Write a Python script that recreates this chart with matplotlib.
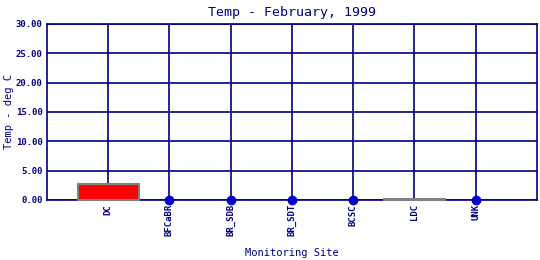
import numpy as np
import matplotlib
matplotlib.use("Agg")
import matplotlib.pyplot as plt

# data
sites = ["DC", "BFCaBR", "BR_SDB", "BR_SDT", "BCSC", "LDC", "UNK"]
temps = [2.7, np.nan, np.nan, np.nan, np.nan, 0.1, np.nan]
y_ticks = [0, 5, 10, 15, 20, 25, 30]

navy = "#000080"
plt.rcParams["font.family"] = ["DejaVu Sans Mono"]

fig = plt.figure(figsize=(5.4, 2.6), dpi=100)
ax = fig.add_axes([0.087, 0.2308, 0.9074, 0.6769])

x = np.arange(len(sites))
vals = np.array(temps, dtype=float)
has = ~np.isnan(vals)

ax.bar(x[has], vals[has], width=1.0, color="red", edgecolor="#808080",
       linewidth=1.5, zorder=3, clip_on=False)
ax.plot(x[~has], np.zeros((~has).sum()), "o", color="#0000cc",
        markersize=6, clip_on=False, zorder=4)

ax.set_xlim(-1, len(sites))
ax.set_ylim(0, 30)
ax.set_yticks(y_ticks)
ax.set_yticklabels(["%.2f" % v for v in y_ticks], fontsize=6.5,
                   color=navy, fontweight="bold")
ax.set_xticks(x)
ax.set_xticklabels(sites, rotation=90, fontsize=6.5, color=navy,
                   fontweight="bold")
ax.tick_params(length=0, pad=3)

ax.grid(True, color=navy, linewidth=1.2, zorder=1)
ax.set_axisbelow(True)
for s in ax.spines.values():
    s.set_color(navy)
    s.set_linewidth(1.2)
    s.set_zorder(2)

ax.set_title("Temp - February, 1999", fontsize=9.5, color=navy, pad=6)
ax.set_ylabel("Temp - deg C", fontsize=7.5, color=navy)
ax.yaxis.set_label_coords(-0.068, 0.5)
ax.set_xlabel("Monitoring Site", fontsize=7.5, color=navy)
ax.xaxis.set_label_coords(0.5, -0.275)

fig.savefig("out.png", dpi=100)
